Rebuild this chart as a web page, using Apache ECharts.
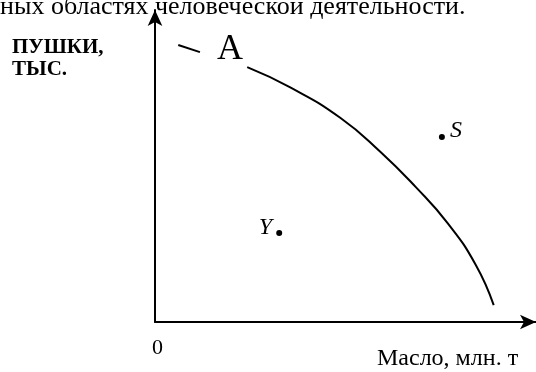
<!DOCTYPE html>
<html>
<head>
<meta charset="utf-8">
<script src="https://cdn.jsdelivr.net/npm/echarts@6/dist/echarts.min.js"></script>
<style>
  html, body { margin: 0; padding: 0; background: #fff; }
  #chart { width: 536px; height: 372px; }
</style>
</head>
<body>
<div id="chart"></div>
<script>
// Production possibilities frontier: guns vs. butter
const frontierX = [2.42, 3.55, 4.87, 5.92, 6.84, 7.68, 8.42, 8.89];
const frontierY = [8.17, 7.52, 6.54, 5.45, 4.33, 3.17, 1.83, 0.54];
const leaderX = [0.61, 1.18];
const leaderY = [8.88, 8.65];
const pointNames = ['Y', 'S'];
const pointX = [3.26, 7.53];
const pointY = [2.85, 5.93];
const labelA = 'A';
const labelAX = 1.97;
const labelAY = 8.72;
const headerText = 'ных областях человеческой деятельности.';
const yTitle = 'ПУШКИ,\nТЫС.';
const xTitle = 'Масло, млн. т';
const originLabel = '0';

const serif = 'Liberation Serif';
const chart = echarts.init(document.getElementById('chart'), null, { renderer: 'canvas' });

const zip = (xs, ys) => xs.map((x, i) => [x, ys[i]]);

// point labels: Y sits to the left of its dot, S to the right
const pointLabel = i => ({
  show: true,
  formatter: pointNames[i],
  position: i === 0 ? 'left' : 'right',
  distance: i === 0 ? 4 : 5,
  offset: [0, i === 0 ? -5 : -6],
  fontFamily: serif,
  fontStyle: 'italic',
  fontSize: 24,
  color: '#000',
  opacity: 1
});

chart.setOption({
  animation: false,
  grid: { left: 155, right: 0, top: 10, bottom: 50 },
  xAxis: {
    type: 'value', min: 0, max: 10,
    axisLine: { show: true, lineStyle: { color: '#000', width: 2 },
      symbol: ['none', 'arrow'], symbolSize: [11, 16], symbolOffset: [0, 0] },
    axisTick: { show: false }, axisLabel: { show: false }, splitLine: { show: false }
  },
  yAxis: {
    type: 'value', min: 0, max: 10,
    axisLine: { show: true, lineStyle: { color: '#000', width: 2 },
      symbol: ['none', 'arrow'], symbolSize: [11, 16], symbolOffset: [0, 0] },
    axisTick: { show: false }, axisLabel: { show: false }, splitLine: { show: false }
  },
  series: [
    {
      type: 'line', data: zip(frontierX, frontierY), smooth: 0.5,
      symbol: 'none', lineStyle: { color: '#000', width: 2 }
    },
    {
      type: 'line', data: zip(leaderX, leaderY),
      symbol: 'none', lineStyle: { color: '#000', width: 2 }
    },
    {
      type: 'scatter', symbolSize: 0, itemStyle: { opacity: 1 },
      data: [[labelAX, labelAY]],
      label: { show: true, position: 'inside', formatter: labelA,
        fontFamily: serif, fontSize: 36, color: '#000', opacity: 1 }
    },
    {
      type: 'scatter', symbolSize: 6, itemStyle: { color: '#000', opacity: 1 },
      data: pointNames.map((n, i) => ({ name: n, value: [pointX[i], pointY[i]],
        label: pointLabel(i) }))
    }
  ],
  graphic: [
    { type: 'text', left: 0, top: -6,
      style: { text: headerText, fontFamily: serif, fontSize: 26, fill: '#000' } },
    { type: 'text', left: 12, top: 37,
      style: { text: yTitle, fontFamily: serif, fontWeight: 'bold', fontSize: 21,
        fill: '#000', lineHeight: 22 } },
    { type: 'text', left: 152, top: 337,
      style: { text: originLabel, fontFamily: serif, fontSize: 22, fill: '#000' } },
    { type: 'text', left: 377, top: 347,
      style: { text: xTitle, fontFamily: serif, fontSize: 24, fill: '#000' } }
  ]
});
</script>
</body>
</html>
